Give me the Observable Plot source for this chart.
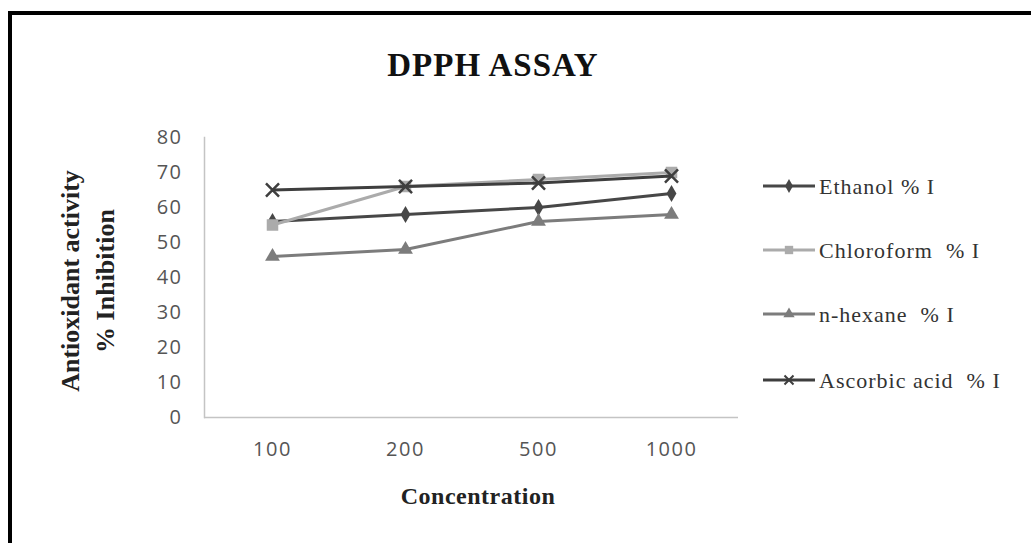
<!DOCTYPE html>
<html>
<head>
<meta charset="utf-8">
<script src="https://cdn.jsdelivr.net/npm/d3@7"></script>
<script src="https://cdn.jsdelivr.net/npm/@observablehq/plot@0.6"></script>
<style>
  html, body { margin: 0; padding: 0; background: #fff; width: 1031px; height: 543px; overflow: hidden; }
  #border { position: absolute; left: 8px; top: 11px; width: 1040px; height: 560px; border-top: 4px solid #000; border-left: 4px solid #000; }
  #chart { position: absolute; left: 0; top: 0; }
  #chart svg text { letter-spacing: 1.5px; }
  #overlay { position: absolute; left: 0; top: 0; }
</style>
</head>
<body>
<div id="border"></div>
<div id="chart"></div>
<svg id="overlay" width="1031" height="543"></svg>
<script>
const concentrations = ["100", "200", "500", "1000"];
const ethanol = [56, 58, 60, 64];
const chloroform = [55, 66, 68, 70];
const nHexane = [46, 48, 56, 58];
const ascorbicAcid = [65, 66, 67, 69];
const seriesNames = ["Ethanol % I", "Chloroform  % I", "n-hexane  % I", "Ascorbic acid  % I"];
const seriesValues = [ethanol, chloroform, nHexane, ascorbicAcid];
const seriesColors = ["#474747", "#ababab", "#7c7c7c", "#3e3e3e"];
const seriesSymbols = ["diamond", "square", "triangle", "times"];
const yTicks = [0, 10, 20, 30, 40, 50, 60, 70, 80];
const titleText = "DPPH ASSAY";
const xTitle = "Concentration";
const yTitleLines = ["Antioxidant activity", "% Inhibition"];

const data = seriesNames.flatMap((s, i) => concentrations.map((c, j) => ({series: s, conc: c, value: seriesValues[i][j]})));

const dotR = {diamond: 5.2, square: 6.5, triangle: 5.5, times: 6};
const seriesMarks = seriesNames.flatMap((s, i) => {
  const d = data.filter(r => r.series === s);
  const sym = seriesSymbols[i];
  return [
    Plot.line(d, {x: "conc", y: "value", stroke: seriesColors[i], strokeWidth: 3}),
    Plot.dot(d, sym === "times"
      ? {x: "conc", y: "value", symbol: "times", r: dotR[sym], stroke: seriesColors[i], strokeWidth: 2.5, fill: "none"}
      : {x: "conc", y: "value", symbol: sym, r: dotR[sym], fill: seriesColors[i], stroke: "none"})
  ];
});

const plot = Plot.plot({
  width: 1031,
  height: 543,
  marginLeft: 204,
  marginRight: 293,
  marginTop: 137,
  marginBottom: 126,
  style: {background: "transparent", fontFamily: "'Open Sans', sans-serif"},
  x: {type: "point", domain: concentrations, padding: 0.5, label: null},
  y: {domain: [0, 80], label: null},
  marks: [
    Plot.frame({anchor: "left", stroke: "#c4c4c4", strokeWidth: 1.5}),
    Plot.ruleY([0], {stroke: "#c4c4c4", strokeWidth: 1.5}),
    Plot.axisY({ticks: yTicks, tickSize: 0, tickPadding: 22, fontSize: 20, color: "#555", label: null}),
    Plot.axisX({tickSize: 0, tickPadding: 24, fontSize: 20, color: "#555", label: null}),
    ...seriesMarks
  ]
});
document.getElementById("chart").appendChild(plot);

const svg = d3.select("#overlay");
svg.append("text").attr("x", 493).attr("y", 76).attr("text-anchor", "middle")
  .attr("font-family", "'Liberation Serif', serif").attr("font-weight", "bold").attr("font-size", 33)
  .attr("letter-spacing", 1).attr("fill", "#111").text(titleText);
svg.append("text").attr("x", 478).attr("y", 504).attr("text-anchor", "middle")
  .attr("font-family", "'Liberation Serif', serif").attr("font-weight", "bold").attr("font-size", 24)
  .attr("letter-spacing", 0.5).attr("fill", "#222").text(xTitle);
const yCenters = [[79, 281], [114, 281]];
yTitleLines.forEach((t, i) => {
  svg.append("text").attr("transform", `translate(${yCenters[i][0]},${yCenters[i][1]}) rotate(-90)`)
    .attr("text-anchor", "middle")
    .attr("font-family", "'Liberation Serif', serif").attr("font-weight", "bold").attr("font-size", 26)
    .attr("fill", "#222").text(t);
});

const legendY = [186, 250, 314, 380];
const symMap = {diamond: d3.symbolDiamond, square: d3.symbolSquare, triangle: d3.symbolTriangle, times: d3.symbolTimes};
seriesNames.forEach((s, i) => {
  const g = svg.append("g").attr("transform", `translate(0,${legendY[i]})`);
  g.append("line").attr("x1", 763).attr("x2", 815).attr("y1", 0).attr("y2", 0)
    .attr("stroke", seriesColors[i]).attr("stroke-width", 3);
  const sym = d3.symbol(symMap[seriesSymbols[i]], seriesSymbols[i] === "square" ? 70 : 55)();
  const p = g.append("path").attr("d", sym).attr("transform", "translate(789,0)");
  if (seriesSymbols[i] === "times") p.attr("fill", "none").attr("stroke", seriesColors[i]).attr("stroke-width", 2);
  else p.attr("fill", seriesColors[i]);
  g.append("text").attr("x", 819).attr("y", 0).attr("dy", "0.35em")
    .attr("font-family", "'Liberation Serif', serif").attr("font-size", 22).attr("letter-spacing", 1)
    .attr("fill", "#333").style("white-space", "pre").text(s);
});
</script>
</body>
</html>
